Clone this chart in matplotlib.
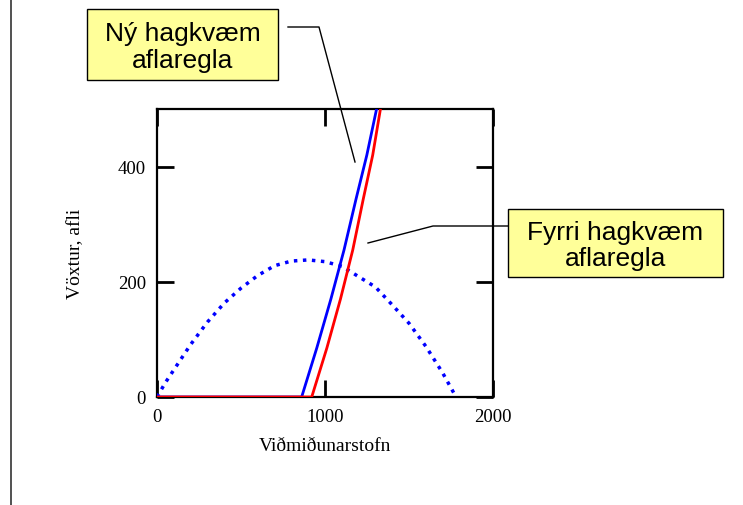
import matplotlib
matplotlib.use("Agg")
import matplotlib.pyplot as plt
from matplotlib.patches import Rectangle
from matplotlib.lines import Line2D

# ---- data ----
growth_x = [0, 50, 100, 150, 200, 300, 400, 500, 600, 700, 800, 900, 1000,
            1100, 1200, 1300, 1400, 1500, 1600, 1700, 1780]
growth_y = [0, 25, 47, 69, 91, 130, 163, 189, 211, 228, 236, 238, 235,
            227, 209, 191, 160, 128, 88, 42, 0]

new_rule_x = [0, 861, 951, 1035, 1113, 1185, 1249, 1307]
new_rule_y = [0, 0, 85, 170, 255, 344, 420, 500]

old_rule_x = [0, 921, 1011, 1092, 1165, 1228, 1284, 1330]
old_rule_y = [0, 0, 85, 170, 255, 344, 420, 500]

x_ticks = [0, 1000, 2000]
y_ticks = [0, 200, 400]
x_label = "Viðmiðunarstofn"
y_label = "Vöxtur, afli"
box_new = "Ný hagkvæm\naflaregla"
box_old = "Fyrri hagkvæm\naflaregla"

# ---- figure ----
W, H = 743, 506
fig = plt.figure(figsize=(W / 100, H / 100), dpi=100)
fig.patch.set_facecolor("white")

def fx(px):
    return px / W

def fy(py):
    return 1 - py / H

ax_l, ax_r, ax_t, ax_b = 157, 493, 110, 398
ax = fig.add_axes([fx(ax_l), fy(ax_b), fx(ax_r - ax_l), (ax_b - ax_t) / H])

ax.plot(growth_x, growth_y, color="#0000ff", lw=2.5,
        linestyle=(0, (1.0, 1.6)), dash_capstyle="butt", zorder=2)
ax.plot(new_rule_x, new_rule_y, color="#0000ff", lw=2.0, zorder=3)
ax.plot(old_rule_x, old_rule_y, color="#ff0000", lw=2.0, zorder=4)

ax.set_xlim(0, 2000)
ax.set_ylim(0, 500)
ax.set_xticks(x_ticks)
ax.set_yticks(y_ticks)
ax.set_xticklabels([str(v) for v in x_ticks])
ax.set_yticklabels([str(v) for v in y_ticks])
ax.tick_params(direction="in", length=12, width=2, top=True, right=True,
               labelsize=13.5, pad=8, colors="black")
for lab in ax.get_xticklabels() + ax.get_yticklabels():
    lab.set_fontfamily("Liberation Serif")
for s in ax.spines.values():
    s.set_linewidth(1.6)
    s.set_color("black")
    s.set_zorder(1)

ax.set_xlabel(x_label, fontfamily="Liberation Serif", fontsize=14)
ax.set_ylabel(y_label, fontfamily="Liberation Serif", fontsize=14)
ax.xaxis.set_label_coords(0.5, -(438 - ax_b) / (ax_b - ax_t))
ax.yaxis.set_label_coords(-(ax_l - 84) / (ax_r - ax_l), 0.5)

# ---- annotation boxes ----
def box(x0, y0, x1, y1, text):
    r = Rectangle((fx(x0), fy(y1)), fx(x1 - x0), (y1 - y0) / H,
                  transform=fig.transFigure, facecolor="#ffff99",
                  edgecolor="black", linewidth=1.0, zorder=10)
    fig.add_artist(r)
    fig.text(fx((x0 + x1) / 2), fy((y0 + y1) / 2 + 2), text,
             ha="center", va="center", fontfamily="Liberation Sans",
             fontsize=19, linespacing=1.12, zorder=11)

box(87, 10, 278, 81, box_new)
box(508, 210, 723, 278, box_old)

def leader(pts):
    xs = [fx(p[0]) for p in pts]
    ys = [fy(p[1]) for p in pts]
    fig.add_artist(Line2D(xs, ys, transform=fig.transFigure,
                          color="black", linewidth=1.0, zorder=9))

leader([(288, 28), (319, 28), (355, 163)])
leader([(508, 227), (433, 227), (368, 244)])

# left frame line
fig.add_artist(Line2D([fx(11), fx(11)], [0, 1], transform=fig.transFigure,
                      color="#333333", linewidth=1.2))

fig.savefig("out.png", dpi=100, facecolor="white")
